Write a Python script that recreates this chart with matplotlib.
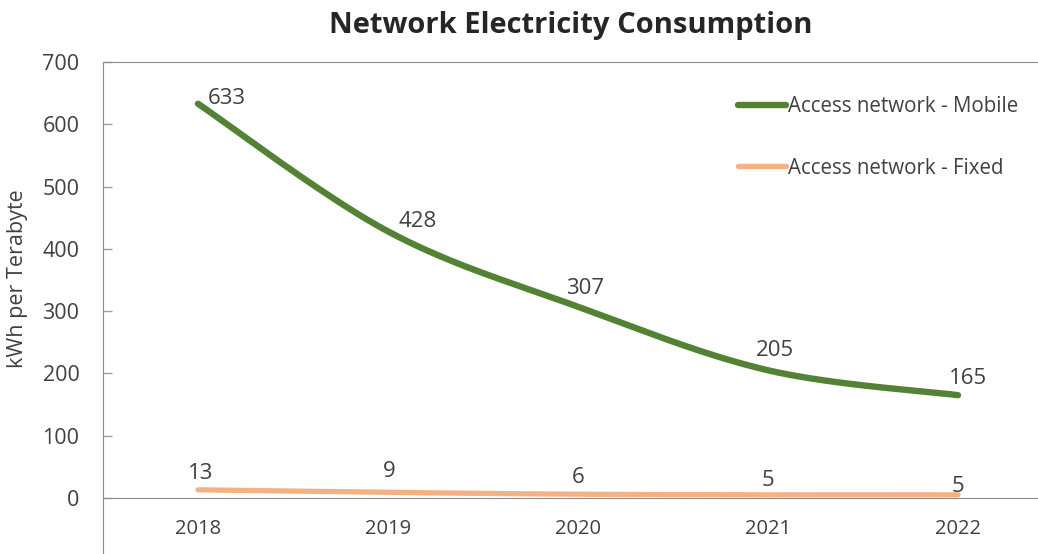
import numpy as np
import matplotlib.pyplot as plt

years = ['2018', '2019', '2020', '2021', '2022']
mobile = [633, 428, 307, 205, 165]
fixed = [13, 9, 6, 5, 5]

plt.rcParams['font.family'] = ['Open Sans', 'DejaVu Sans']


def smooth(xs, ys, steps=40):
    """Excel-like smoothed line: cubic Bezier through points (Catmull-Rom controls)."""
    pts = np.column_stack([xs, ys]).astype(float)
    padded = np.vstack([pts[0], pts, pts[-1]])
    out = []
    t = np.linspace(0, 1, steps)[:, None]
    for i in range(len(pts) - 1):
        p0, p3 = pts[i], pts[i + 1]
        c1 = p0 + (padded[i + 2] - padded[i]) / 6
        c2 = p3 - (padded[i + 3] - padded[i + 1]) / 6
        seg = (1 - t) ** 3 * p0 + 3 * (1 - t) ** 2 * t * c1 + 3 * (1 - t) * t ** 2 * c2 + t ** 3 * p3
        out.append(seg)
    curve = np.vstack(out)
    return curve[:, 0], curve[:, 1]


fig = plt.figure(figsize=(10.38, 5.54), dpi=100)
ax = fig.add_axes([103 / 1038, 0.0, 950 / 1038, 1 - 62 / 554])

x = np.arange(len(years))
green = '#548235'
orange = '#F4B183'
text_col = '#404040'

sx, sy = smooth(x, mobile)
ax.plot(sx, sy, color=green, lw=4.6, solid_capstyle='round', label='Access network - Mobile')
fx, fy = smooth(x, fixed)
ax.plot(fx, fy, color=orange, lw=3.8, solid_capstyle='round', label='Access network - Fixed')

# data labels (offsets in points)
mob_off = [(21, 4), (21, 7), (5, 13), (5, 14), (7, 12)]
fix_off = [(2, 12), (1, 15), (0, 12), (0, 10), (0, 6)]
for i, v in enumerate(mobile):
    ax.annotate(str(v), (x[i], v), xytext=mob_off[i], textcoords='offset points',
                ha='center', va='center', fontsize=16, color=text_col)
for i, v in enumerate(fixed):
    ax.annotate(str(v), (x[i], v), xytext=fix_off[i], textcoords='offset points',
                ha='center', va='center', fontsize=16, color=text_col)

ax.set_xlim(-0.5, 4.5)
ax.set_ylim(-90, 700)
ax.set_yticks(range(0, 701, 100))
ax.set_xticks(x)
ax.set_xticklabels(years)
ax.tick_params(axis='x', length=0, labelsize=14.5, colors=text_col, pad=15)
ax.tick_params(axis='y', direction='in', length=6.5, width=1, color='#a0a0a0',
               labelsize=15.5, labelcolor=text_col, pad=17)

ax.spines['right'].set_visible(False)
ax.spines['bottom'].set_position(('data', 0))
for s in ['bottom', 'left', 'top']:
    ax.spines[s].set_color('#8c8c8c')

ax.set_ylabel('kWh per Terabyte', fontsize=15.5, color=text_col, va='center')
ax.yaxis.set_label_coords(-0.0895, 0.559)
fig.text(0.55, 1 - 25 / 554, 'Network Electricity Consumption', ha='center',
         va='center', fontsize=21, fontweight='bold', color='#262626')

ax.legend(loc='upper left', bbox_to_anchor=((738 - 103) / 950, 0.93), frameon=False,
          fontsize=14.8, handlelength=2.35, handletextpad=0.1, labelspacing=1.95,
          borderpad=0, borderaxespad=0, labelcolor=text_col)

fig.savefig('out.png', dpi=100)
